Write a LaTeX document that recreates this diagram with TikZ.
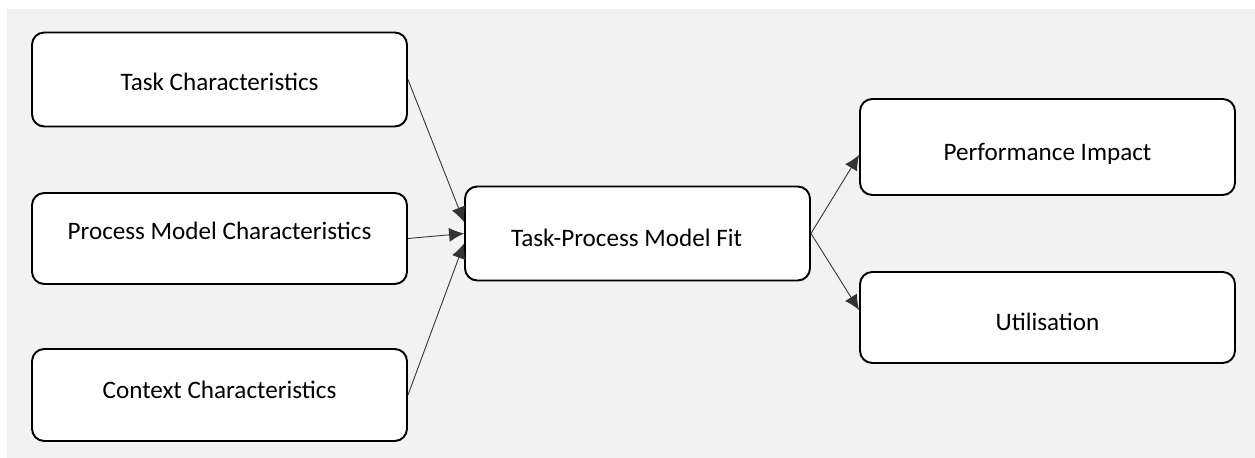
\documentclass[tikz,border=0pt]{standalone}
\usepackage{fontspec}
\setmainfont{Carlito}
\usetikzlibrary{arrows.meta}
\definecolor{bggray}{HTML}{F2F2F2}
\tikzset{>={Latex[length=8.5pt,width=8pt]}}
\tikzset{blk/.style={draw, rounded corners=7pt, line width=1.1pt, fill=white, minimum width=7.5cm, minimum height=1.88cm, text height=10pt, text depth=3pt, font=\fontsize{14.3}{17}\selectfont}}
\tikzset{con/.style={->, line width=0.5pt, draw=black!80}}

\begin{document}
\begin{tikzpicture}
    \useasboundingbox (0,0) rectangle (25.1,-9.16);
    \fill[bggray] (0.14,-0.18) rectangle (25.1,-9.16);

    \node[blk] (task) at (4.39, -1.59) {\raisebox{-2.9pt}{Task Characteristics}};
    \node[blk, minimum height=1.82cm] (proc) at (4.39, -4.77) {\raisebox{2.9pt}{Process Model Characteristics}};
    \node[blk, minimum height=1.84cm] (ctx) at (4.39, -7.9) {\raisebox{1.7pt}{Context Characteristics}};

    \node[blk, minimum width=6.9cm] (fit) at (12.75, -4.67) {\raisebox{-4pt}{Task-Process Model Fit}\kern0.44cm};

    \node[blk, minimum height=1.92cm] (perf) at (20.95, -2.94) {\raisebox{-4pt}{Performance Impact}};
    \node[blk, minimum height=1.82cm] (util) at (20.95, -6.35) {\raisebox{-4pt}{Utilisation}};

    \draw[con] (task.east) -- ([yshift=0.23cm]fit.west);
    \draw[con] (proc.east) -- (fit.west);
    \draw[con] (ctx.east) -- ([yshift=-0.2cm]fit.west);

    \draw[con] (fit.east) -- ([yshift=-0.16cm]perf.west);
    \draw[con] (fit.east) -- ([yshift=0.15cm]util.west);
\end{tikzpicture}
\end{document}
